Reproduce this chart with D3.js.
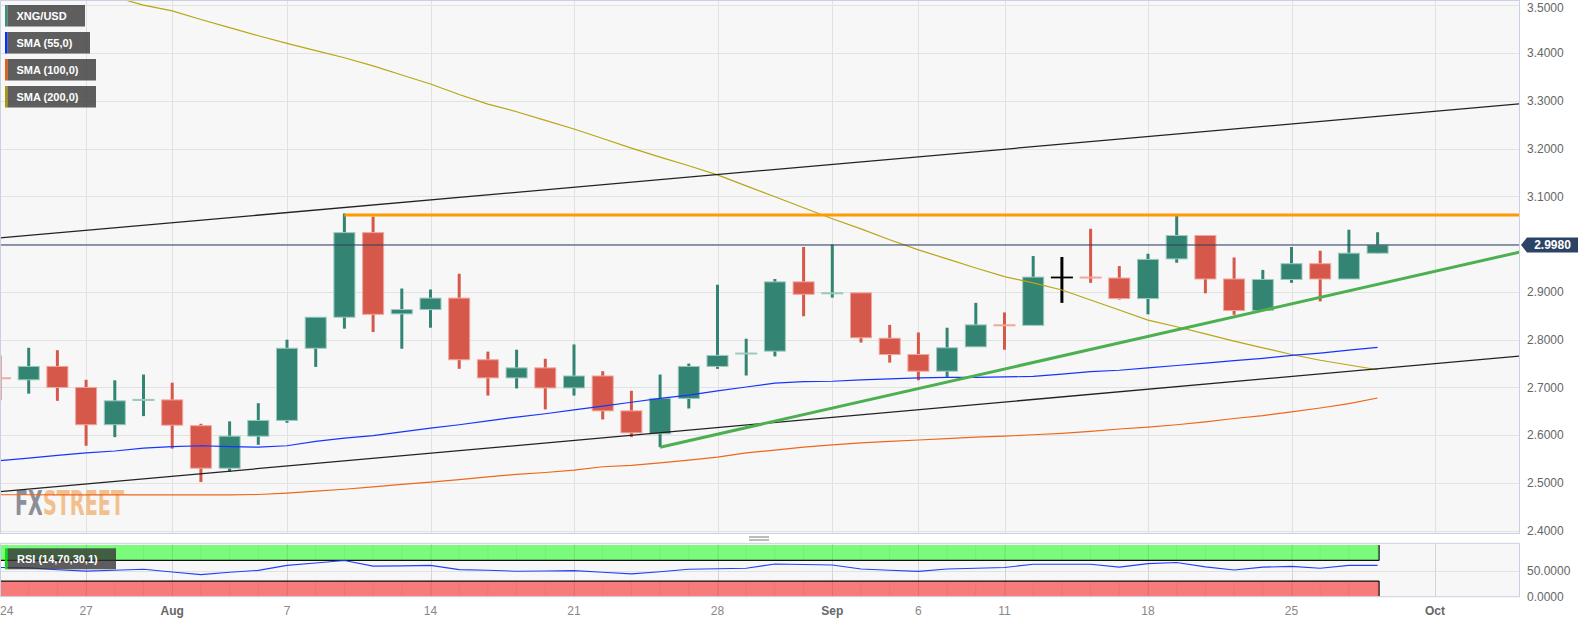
<!DOCTYPE html>
<html><head><meta charset="utf-8">
<script src="https://cdn.jsdelivr.net/npm/d3@7"></script>
<style>body{margin:0;background:#fff;}svg{display:block;font-family:"Liberation Sans",Arial,sans-serif;}</style>
</head><body><svg id="c" width="1583" height="623"></svg>
<script>
// ---------- DATA ----------
const dates = ["Jul 24","Jul 25","Jul 26","Jul 27","Jul 28","Jul 31","Aug 1","Aug 2","Aug 3","Aug 4","Aug 7","Aug 8","Aug 9","Aug 10","Aug 11","Aug 14","Aug 15","Aug 16","Aug 17","Aug 18","Aug 21","Aug 22","Aug 23","Aug 24","Aug 25","Aug 28","Aug 29","Aug 30","Aug 31","Sep 1","Sep 4","Sep 5","Sep 6","Sep 7","Sep 8","Sep 11","Sep 12","Sep 13","Sep 14","Sep 15","Sep 18","Sep 19","Sep 20","Sep 21","Sep 22","Sep 25","Sep 26","Sep 27","Sep 28"];
const futureSlots = ["Sep 29","Oct 2","Oct 3","Oct 4","Oct 5"];
const open  = [2.720,2.716,2.744,2.700,2.622,2.673,2.674,2.620,2.531,2.598,2.631,2.782,2.847,3.024,2.854,2.863,2.887,2.758,2.720,2.741,2.699,2.724,2.651,2.603,2.677,2.744,2.770,2.776,2.921,2.896,2.898,2.803,2.769,2.734,2.785,2.831,2.830,2.931,2.931,2.929,2.886,2.969,3.018,2.927,2.861,2.926,2.959,2.927,2.981];
const high  = [2.767,2.783,2.778,2.716,2.715,2.727,2.710,2.624,2.629,2.667,2.800,2.847,3.064,3.058,2.907,2.905,2.938,2.775,2.779,2.760,2.790,2.734,2.693,2.727,2.750,2.915,2.802,2.927,2.994,2.999,2.898,2.831,2.815,2.825,2.877,2.857,2.975,2.973,3.032,2.954,2.980,3.059,3.018,2.972,2.946,2.994,2.986,3.030,3.025];
const low   = [2.673,2.687,2.672,2.578,2.596,2.640,2.572,2.502,2.523,2.580,2.626,2.743,2.823,2.816,2.781,2.825,2.739,2.683,2.698,2.654,2.683,2.633,2.596,2.575,2.656,2.739,2.725,2.765,2.849,2.888,2.794,2.752,2.715,2.722,2.785,2.779,2.830,2.877,2.919,2.884,2.853,2.961,2.897,2.852,2.861,2.919,2.880,2.927,2.981];
const close = [2.719,2.744,2.700,2.622,2.672,2.675,2.621,2.531,2.598,2.631,2.782,2.847,3.024,2.853,2.863,2.887,2.758,2.720,2.741,2.699,2.724,2.651,2.605,2.677,2.744,2.767,2.772,2.921,2.895,2.898,2.804,2.769,2.734,2.783,2.831,2.829,2.931,2.931,2.929,2.886,2.968,3.018,2.927,2.861,2.926,2.959,2.927,2.981,2.998];
const highlighted = "Sep 13";
const sma55  = [2.547,2.552,2.558,2.563,2.567,2.573,2.576,2.578,2.576,2.575,2.578,2.587,2.594,2.599,2.607,2.615,2.622,2.630,2.638,2.645,2.653,2.661,2.669,2.677,2.684,2.693,2.701,2.709,2.712,2.713,2.716,2.718,2.720,2.721,2.721,2.722,2.723,2.728,2.733,2.736,2.741,2.746,2.751,2.756,2.761,2.767,2.772,2.778,2.784];
const sma100 = [2.4755,2.4755,2.475,2.475,2.475,2.475,2.475,2.475,2.475,2.476,2.479,2.483,2.487,2.492,2.497,2.502,2.507,2.513,2.518,2.522,2.527,2.534,2.537,2.542,2.548,2.554,2.563,2.569,2.575,2.580,2.584,2.587,2.590,2.593,2.596,2.598,2.601,2.604,2.608,2.613,2.617,2.622,2.628,2.635,2.641,2.649,2.657,2.666,2.678];
const sma200 = [3.584,3.570,3.553,3.534,3.517,3.500,3.488,3.470,3.453,3.436,3.420,3.405,3.390,3.373,3.354,3.335,3.313,3.293,3.277,3.259,3.241,3.221,3.201,3.182,3.164,3.145,3.122,3.099,3.076,3.053,3.032,3.009,2.988,2.969,2.950,2.932,2.919,2.904,2.883,2.862,2.841,2.827,2.812,2.797,2.783,2.769,2.757,2.747,2.737];
const rsi = [56.4,55.5,52,49.3,51,52.8,47.5,42.5,47,50.8,60.5,65,70,59,59.5,60.5,52.2,51,49,49.5,50.2,47,43.9,48,52.8,54,54.9,63.2,62,61.1,53.5,51,48.7,53.5,55,56.4,62.6,62.6,62.6,57,63.9,66,57.6,51.4,57,58.4,55,60.5,60.5];
const upperChannel = [["Jul 24",3.013],["Oct 5",3.294]];
const lowerChannel = [["Jul 24",2.482],["Oct 5",2.766]];
const greenTrend   = [["Aug 24",2.575],["Oct 5",2.984]];
const resistance   = [["Aug 9",3.061],["Oct 5",3.061]];
const lastPrice = 2.998;
const priceTicks = [3.5,3.4,3.3,3.2,3.1,3.0,2.9,2.8,2.7,2.6,2.5,2.4];
const rsiTicks = [50,0];
const xTickDates = ["Jul 24","Jul 27","Aug 1","Aug 7","Aug 14","Aug 21","Aug 28","Sep 1","Sep 6","Sep 11","Sep 18","Sep 25","Oct 2"];
const xTickText  = ["24","27","Aug","7","14","21","28","Sep","6","11","18","25","Oct"];
const legendNames = ["XNG/USD","SMA (55,0)","SMA (100,0)","SMA (200,0)"];

// ---------- LAYOUT ----------
const PR = 1519, PT = 0.5, PB = 533.5, RT = 543.3, RB = 596.7;
const svg = d3.select("#c");
const slots = dates.concat(futureSlots);
const x = d3.scalePoint().domain(slots).range([0, 28.7*(slots.length-1)]);
const y = d3.scaleLinear().domain([2.4,3.5]).range([530.8,5.2]);
const yr = d3.scaleLinear().domain([0,100]).range([596.5,545]);
const GREEN="#338473", RED="#d5584a", GREEN_L="#9ccabf", RED_L="#f2a69c";

const defs = svg.append("defs");
defs.append("clipPath").attr("id","mainclip").append("rect").attr("x",0).attr("y",PT).attr("width",PR).attr("height",PB-PT);
defs.append("clipPath").attr("id","rsiclip").append("rect").attr("x",0).attr("y",RT).attr("width",PR).attr("height",RB-RT);
const wmGrad = defs.append("linearGradient").attr("id","wmgrad").attr("gradientUnits","userSpaceOnUse")
  .attr("x1",15).attr("x2",124).attr("y1",0).attr("y2",0);
wmGrad.append("stop").attr("offset",0).attr("stop-color","#8d8f98");
wmGrad.append("stop").attr("offset",0.245).attr("stop-color","#8d8f98");
wmGrad.append("stop").attr("offset",0.245).attr("stop-color","#f2c08e");
wmGrad.append("stop").attr("offset",1).attr("stop-color","#f2c08e");

svg.append("rect").attr("x",0.5).attr("y",PT).attr("width",PR).attr("height",PB-PT).attr("fill","#f7f7f7");
svg.append("rect").attr("x",0.5).attr("y",RT).attr("width",PR).attr("height",RB-RT).attr("fill","#f7f7f7");

const main = svg.append("g").attr("clip-path","url(#mainclip)");
main.selectAll(".hg").data(priceTicks).join("line")
  .attr("x1",0).attr("x2",PR).attr("y1",d=>Math.round(y(d))+0.5).attr("y2",d=>Math.round(y(d))+0.5)
  .attr("stroke","#e2e2e2").attr("stroke-width",1);
main.selectAll(".vg").data(xTickDates).join("line")
  .attr("x1",d=>Math.round(x(d))+0.5).attr("x2",d=>Math.round(x(d))+0.5).attr("y1",0).attr("y2",PB)
  .attr("stroke","#e2e2e2").attr("stroke-width",1);

// watermark: one text, two-colour fill
main.append("text").attr("x",15).attr("y",514.5)
  .attr("font-family","'DejaVu Sans Condensed','DejaVu Sans',sans-serif").attr("font-weight","bold").attr("font-size",34.5)
  .attr("textLength",109).attr("lengthAdjust","spacingAndGlyphs").attr("fill","url(#wmgrad)")
  .text("FXSTREET");

// candles
const idx = d3.range(dates.length);
const cg = main.append("g");
const colorOf = i => dates[i]===highlighted ? "#000" : (close[i] >= open[i] ? GREEN : RED);
const lightOf = i => dates[i]===highlighted ? "#000" : (close[i] >= open[i] ? GREEN_L : RED_L);
cg.selectAll(".wick").data(idx).join("line")
  .attr("x1",i=>x(dates[i])).attr("x2",i=>x(dates[i]))
  .attr("y1",i=>y(high[i])).attr("y2",i=>y(low[i]))
  .attr("stroke",colorOf).attr("stroke-width",3);
cg.selectAll(".body").data(idx).join("rect")
  .attr("x",i=>x(dates[i])-10.5).attr("width",21)
  .attr("y",i=>y(Math.max(open[i],close[i])))
  .attr("height",i=>Math.max(Math.abs(y(open[i])-y(close[i])),0.8))
  .attr("fill",colorOf).attr("stroke",lightOf).attr("stroke-width",1);

// SMA lines
const line = d3.line().x((d,i)=>x(dates[i])).y(d=>y(d));
main.append("path").attr("d",line(sma200)).attr("fill","none").attr("stroke","#b8a614").attr("stroke-width",1.2);
main.append("path").attr("d",line(sma100)).attr("fill","none").attr("stroke","#f0661c").attr("stroke-width",1.2);
main.append("path").attr("d",line(sma55)).attr("fill","none").attr("stroke","#1535ff").attr("stroke-width",1.2);

// trend lines
const tl = d3.line().x(d=>x(d[0])).y(d=>y(d[1]));
main.append("path").attr("d",tl(upperChannel)).attr("fill","none").attr("stroke","#222").attr("stroke-width",1.3);
main.append("path").attr("d",tl(lowerChannel)).attr("fill","none").attr("stroke","#222").attr("stroke-width",1.3);
main.append("path").attr("d",tl(resistance)).attr("fill","none").attr("stroke","#ff9a00").attr("stroke-width",3);
main.append("path").attr("d",tl(greenTrend)).attr("fill","none").attr("stroke","#4caf50").attr("stroke-width",3);
main.append("line").attr("x1",0).attr("x2",PR).attr("y1",y(lastPrice)).attr("y2",y(lastPrice)).attr("stroke","#2c3f63").attr("stroke-width",1.1);

svg.append("rect").attr("x",0.5).attr("y",PT).attr("width",PR).attr("height",PB-PT).attr("fill","none").attr("stroke","#c9d0e2");

// ---------- RSI panel ----------
const rg = svg.append("g").attr("clip-path","url(#rsiclip)");
rg.selectAll(".vg").data(xTickDates).join("line")
  .attr("x1",d=>Math.round(x(d))+0.5).attr("x2",d=>Math.round(x(d))+0.5).attr("y1",RT).attr("y2",RB)
  .attr("stroke","#e2e2e2");
rg.append("line").attr("x1",0).attr("x2",PR).attr("y1",Math.round(yr(50))+0.5).attr("y2",Math.round(yr(50))+0.5).attr("stroke","#e2e2e2");
const bandEnd = x(dates[dates.length-1]) + 1.5;
rg.append("rect").attr("x",0).attr("y",yr(100)).attr("width",bandEnd).attr("height",yr(70)-yr(100)).attr("fill","#7bfb7b");
rg.append("rect").attr("x",0).attr("y",yr(30)).attr("width",bandEnd).attr("height",yr(0)-yr(30)).attr("fill","#f87b7b");
rg.selectAll(".bt").data(idx).join("line")
  .attr("x1",i=>x(dates[i])).attr("x2",i=>x(dates[i])).attr("y1",yr(100)).attr("y2",yr(70))
  .attr("stroke","rgba(0,0,0,0.05)");
rg.selectAll(".bt2").data(idx).join("line")
  .attr("x1",i=>x(dates[i])).attr("x2",i=>x(dates[i])).attr("y1",yr(30)).attr("y2",yr(0))
  .attr("stroke","rgba(0,0,0,0.05)");
rg.selectAll(".vg2").data(xTickDates).join("line")
  .attr("x1",d=>Math.round(x(d))+0.5).attr("x2",d=>Math.round(x(d))+0.5).attr("y1",RT).attr("y2",RB)
  .attr("stroke","rgba(0,0,0,0.06)");
[[0,yr(100),0,yr(70)],[bandEnd,yr(100),bandEnd,yr(70)],[0,yr(70),bandEnd,yr(70)],
 [0,yr(30),bandEnd,yr(30)],[0,yr(30),0,yr(0)],[bandEnd,yr(30),bandEnd,yr(0)]].forEach(s=>{
  rg.append("line").attr("x1",s[0]).attr("y1",s[1]).attr("x2",s[2]).attr("y2",s[3]).attr("stroke","#111").attr("stroke-width",1.2);
});
const rl = d3.line().x((d,i)=>x(dates[i])).y(d=>yr(d));
rg.append("path").attr("d",rl(rsi)).attr("fill","none").attr("stroke","#2040ff").attr("stroke-width",1.1);
svg.append("rect").attr("x",0.5).attr("y",RT).attr("width",PR).attr("height",RB-RT).attr("fill","none").attr("stroke","#c9d0e2");

[537,540].forEach(yy=>svg.append("line").attr("x1",749).attr("x2",769).attr("y1",yy).attr("y2",yy).attr("stroke","#7a7a7a").attr("stroke-width",1));

const rlab = svg.append("g");
rlab.append("rect").attr("x",5).attr("y",548.3).attr("width",2.5).attr("height",21).attr("fill","#00e600");
rlab.append("rect").attr("x",7.5).attr("y",548.3).attr("width",108.5).attr("height",21).attr("fill","rgba(50,50,50,0.78)");
rlab.append("text").attr("x",17).attr("y",563).attr("fill","#fff").attr("font-size",11).attr("font-weight","bold").text("RSI (14,70,30,1)");

// ---------- axes ----------
const py = y(lastPrice);
svg.selectAll(".pt").data(priceTicks.filter(d=>Math.abs(y(d)-py)>12)).join("text")
  .attr("x",1527).attr("y",d=>Math.max(y(d),7.5)).attr("dy","0.35em").attr("font-size",12).attr("fill","#666")
  .text(d=>d3.format(".4f")(d));
svg.selectAll(".rt").data(rsiTicks).join("text")
  .attr("x",1527).attr("y",d=>yr(d)).attr("dy","0.35em").attr("font-size",12).attr("fill","#666")
  .text(d=>d3.format(".4f")(d));
svg.append("path").attr("d",`M1521,${py} L1527,${py-7.5} H1578 V${py+7.5} H1527 Z`).attr("fill","#2d4366");
svg.append("text").attr("x",1552.5).attr("y",py).attr("dy","0.36em").attr("text-anchor","middle").attr("font-size",12).attr("font-weight","bold").attr("fill","#fff").text(d3.format(".4f")(lastPrice));

svg.selectAll(".xt").data(xTickDates).join("text")
  .attr("x",(d,i)=> i===0 ? 0 : x(d))
  .attr("y",614.5)
  .attr("text-anchor",(d,i)=> i===0 ? "start" : "middle")
  .attr("font-size",12)
  .attr("font-weight",(d,i)=> /[A-Za-z]/.test(xTickText[i]) ? "bold" : "normal")
  .attr("fill",(d,i)=> /[A-Za-z]/.test(xTickText[i]) ? "#666" : "#888")
  .text((d,i)=>xTickText[i]);

// ---------- legend ----------
const legColors = ["#3a8f7c","#0a2cff","#f05a0a","#a89a00"];
const legWidths = [80,85,91,91];
legendNames.forEach((n,i)=>{
  const g = svg.append("g").attr("transform",`translate(5,${5+27*i})`);
  g.append("rect").attr("x",0).attr("y",0).attr("width",2.5).attr("height",21.5).attr("fill",legColors[i]);
  g.append("rect").attr("x",2.5).attr("y",0).attr("width",legWidths[i]-2.5).attr("height",21.5).attr("fill","rgba(60,60,60,0.82)");
  g.append("text").attr("x",11.5).attr("y",15).attr("fill","#fff").attr("font-size",11).attr("font-weight","bold").text(n);
});
</script></body></html>
